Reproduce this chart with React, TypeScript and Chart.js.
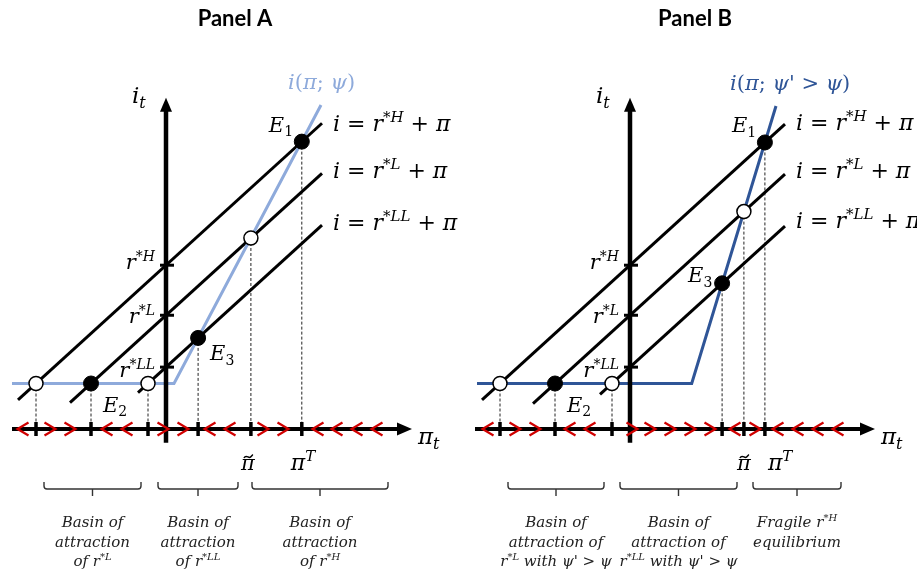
import React, { useEffect, useRef } from "react";
import { Chart, registerables } from "chart.js";

Chart.register(...registerables);

type Pt = { x: number; y: number };
type Kind = "i" | "n" | "sup" | "sub" | "subn";
type Tok = [string, Kind];

// ---------------- data (model units: π on x, i on y) ----------------
const R_STAR = [18, 12.5, 6.8]; // r*H, r*L, r*LL
const R_STAR_TAGS = ["*H", "*L", "*LL"];
const ZLB = 5;
const Y_AXIS = [-1.5, 36.4];

// Panel A
const A_X_AXIS = [-15.4, 24.6];
const A_LINE_H: Pt[] = [{ x: -14.8, y: 3.2 }, { x: 15.6, y: 33.6 }];
const A_LINE_L: Pt[] = [{ x: -9.6, y: 2.9 }, { x: 15.6, y: 28.1 }];
const A_LINE_LL: Pt[] = [{ x: -2.8, y: 4.0 }, { x: 15.6, y: 22.4 }];
const A_RULE: Pt[] = [{ x: -15.4, y: ZLB }, { x: 0.8, y: ZLB }, { x: 15.5, y: 35.6 }];
const A_EQ_FILLED: Pt[] = [{ x: -7.5, y: 5 }, { x: 3.21, y: 10.01 }, { x: 13.58, y: 31.58 }]; // E2, E3, E1
const A_EQ_OPEN: Pt[] = [{ x: -13, y: 5 }, { x: -1.8, y: 5 }, { x: 8.49, y: 20.99 }];
const A_FLOW_PI = [-14.3, -11.6, -9.6, -5.9, -3.9, -0.3, 1.7, 4.4, 6.4, 9.7, 11.7, 15.2, 17.1, 19.1, 21.1];
const A_FLOW_DIR = [-1, 1, 1, -1, -1, 1, 1, -1, -1, 1, 1, -1, -1, -1, -1];
const A_BASINS = [[-12.2, -2.5], [-0.8, 7.2], [8.6, 22.2]];
const A_BASIN_TEXT: Tok[][][] = [
  [[["Basin of", "i"]], [["attraction", "i"]], [["of r", "i"], ["*L", "sup"]]],
  [[["Basin of", "i"]], [["attraction", "i"]], [["of r", "i"], ["*LL", "sup"]]],
  [[["Basin of", "i"]], [["attraction", "i"]], [["of r", "i"], ["*H", "sup"]]],
];

// Panel B
const B_X_AXIS = [-15.5, 24.5];
const B_LINE_H: Pt[] = [{ x: -14.8, y: 3.2 }, { x: 15.5, y: 33.5 }];
const B_LINE_L: Pt[] = [{ x: -9.7, y: 2.8 }, { x: 15.5, y: 28.0 }];
const B_LINE_LL: Pt[] = [{ x: -3.0, y: 3.8 }, { x: 15.5, y: 22.3 }];
const B_RULE: Pt[] = [{ x: -15.3, y: ZLB }, { x: 6.17, y: ZLB }, { x: 14.6, y: 35.5 }];
const B_EQ_FILLED: Pt[] = [{ x: -7.5, y: 5 }, { x: 9.21, y: 16.01 }, { x: 13.49, y: 31.49 }];
const B_EQ_OPEN: Pt[] = [{ x: -13, y: 5 }, { x: -1.8, y: 5 }, { x: 11.39, y: 23.89 }];
const B_FLOW_PI = [-14.2, -11.5, -9.5, -6.0, -4.0, 0.2, 2.0, 4.0, 6.0, 8.0, 10.5, 12.5, 14.8, 16.8, 18.8, 20.8];
const B_FLOW_DIR = [-1, 1, 1, -1, -1, 1, 1, 1, 1, 1, -1, 1, -1, -1, -1, -1];
const B_BASINS = [[-12.2, -2.6], [-1.0, 10.7], [12.3, 21.1]];
const B_BASIN_TEXT: Tok[][][] = [
  [[["Basin of", "i"]], [["attraction of", "i"]], [["r", "i"], ["*L", "sup"], [" with ψ' ", "i"], ["> ", "n"], ["ψ", "i"]]],
  [[["Basin of", "i"]], [["attraction of", "i"]], [["r", "i"], ["*LL", "sup"], [" with ψ' ", "i"], ["> ", "n"], ["ψ", "i"]]],
  [[["Fragile r", "i"], ["*H", "sup"]], [["equilibrium", "i"]]],
];

const A_RULE_LABEL: Tok[] = [["i", "i"], ["(", "n"], ["π", "i"], ["; ", "n"], ["ψ", "i"], [")", "n"]];
const B_RULE_LABEL: Tok[] = [
  ["i", "i"], ["(", "n"], ["π", "i"], ["; ", "n"], ["ψ", "i"], ["'", "i"], [" > ", "n"], ["ψ", "i"], [")", "n"],
];

const RULE_COLOR_A = "#8eaadb";
const RULE_COLOR_B = "#2f5597";

// ---------------- drawing helpers ----------------
const FONT_MATH = '"DejaVu Serif", serif';

function tokFont(kind: Kind, size: number) {
  const small = kind === "sup" || kind === "sub" || kind === "subn";
  const italic = kind === "i" || kind === "sup" || kind === "sub";
  return `${italic ? "italic " : ""}${small ? Math.round(size * 0.68) : size}px ${FONT_MATH}`;
}
function mathWidth(ctx: CanvasRenderingContext2D, toks: Tok[], size: number) {
  let w = 0;
  for (const [t, k] of toks) {
    ctx.font = tokFont(k, size);
    w += ctx.measureText(t).width;
  }
  return w;
}
function drawMath(
  ctx: CanvasRenderingContext2D,
  toks: Tok[],
  x: number,
  y: number,
  size: number,
  color: string,
  align: "left" | "center" | "right" = "left"
) {
  const w = mathWidth(ctx, toks, size);
  let cx = align === "left" ? x : align === "right" ? x - w : x - w / 2;
  ctx.fillStyle = color;
  ctx.textBaseline = "alphabetic";
  ctx.textAlign = "left";
  for (const [t, k] of toks) {
    ctx.font = tokFont(k, size);
    const dy = k === "sup" ? -size * 0.4 : k === "sub" || k === "subn" ? size * 0.22 : 0;
    ctx.fillText(t, cx, y + dy);
    cx += ctx.measureText(t).width;
  }
}

type Panel = {
  axis: string;
  title: string;
  titleX: number;
  xAxis: number[];
  lines: Pt[][];
  rule: Pt[];
  ruleColor: string;
  ruleLabel: Tok[];
  ruleLabelDx: number;
  filled: Pt[];
  open: Pt[];
  flowPi: number[];
  flowDir: number[];
  basins: number[][];
  basinText: Tok[][][];
  lineLabelBase: number[];
  e3Dx: number;
  e3Dy: number;
  piTDx: number;
  tildeDx: number;
};

const PANELS: Panel[] = [
  {
    axis: "xA", title: "Panel A", titleX: 6.9, xAxis: A_X_AXIS,
    lines: [A_LINE_H, A_LINE_L, A_LINE_LL], rule: A_RULE, ruleColor: RULE_COLOR_A,
    ruleLabel: A_RULE_LABEL, ruleLabelDx: -33, filled: A_EQ_FILLED, open: A_EQ_OPEN,
    flowPi: A_FLOW_PI, flowDir: A_FLOW_DIR, basins: A_BASINS, basinText: A_BASIN_TEXT,
    lineLabelBase: [131, 178, 230], e3Dx: 12, e3Dy: 22, piTDx: -11, tildeDx: -3,
  },
  {
    axis: "xB", title: "Panel B", titleX: 6.5, xAxis: B_X_AXIS,
    lines: [B_LINE_H, B_LINE_L, B_LINE_LL], rule: B_RULE, ruleColor: RULE_COLOR_B,
    ruleLabel: B_RULE_LABEL, ruleLabelDx: -46, filled: B_EQ_FILLED, open: B_EQ_OPEN,
    flowPi: B_FLOW_PI, flowDir: B_FLOW_DIR, basins: B_BASINS, basinText: B_BASIN_TEXT,
    lineLabelBase: [130, 178, 228], e3Dx: -34, e3Dy: -1, piTDx: 3, tildeDx: 0,
  },
];

const diagramPlugin = {
  id: "diagram",
  afterDatasetsDraw(chart: any) {
    const ctx: CanvasRenderingContext2D = chart.ctx;
    const ys = chart.scales.y;
    const Y = (v: number) => ys.getPixelForValue(v);
    for (const p of PANELS) {
      const xs = chart.scales[p.axis];
      const X = (v: number) => xs.getPixelForValue(v);
      const x0 = X(0);
      const y0 = Y(0);
      ctx.save();
      ctx.lineCap = "butt";
      // axes
      ctx.strokeStyle = "#000";
      ctx.fillStyle = "#000";
      ctx.lineWidth = 4;
      const xTip = X(p.xAxis[1]);
      ctx.beginPath();
      ctx.moveTo(X(p.xAxis[0]), y0);
      ctx.lineTo(xTip - 12, y0);
      ctx.stroke();
      ctx.beginPath();
      ctx.moveTo(xTip, y0);
      ctx.lineTo(xTip - 15, y0 - 6.5);
      ctx.lineTo(xTip - 15, y0 + 6.5);
      ctx.closePath();
      ctx.fill();
      const yTip = Y(Y_AXIS[1]);
      ctx.lineWidth = 4.5;
      ctx.beginPath();
      ctx.moveTo(x0, Y(Y_AXIS[0]));
      ctx.lineTo(x0, yTip + 10);
      ctx.stroke();
      ctx.beginPath();
      ctx.moveTo(x0, yTip);
      ctx.lineTo(x0 - 6, yTip + 14);
      ctx.lineTo(x0 + 6, yTip + 14);
      ctx.closePath();
      ctx.fill();

      // flow chevrons
      ctx.strokeStyle = "#d00000";
      ctx.lineWidth = 2.2;
      ctx.lineJoin = "miter";
      p.flowPi.forEach((v, k) => {
        const cx = X(v);
        const d = p.flowDir[k];
        ctx.beginPath();
        ctx.moveTo(cx - 5.5 * d, y0 - 6.5);
        ctx.lineTo(cx + 5.5 * d, y0);
        ctx.lineTo(cx - 5.5 * d, y0 + 6.5);
        ctx.stroke();
      });

      // x ticks at equilibria
      ctx.strokeStyle = "#000";
      ctx.lineWidth = 3.5;
      for (const e of [...p.filled, ...p.open]) {
        ctx.beginPath();
        ctx.moveTo(X(e.x), y0 - 7);
        ctx.lineTo(X(e.x), y0 + 7);
        ctx.stroke();
      }
      // y ticks at r*
      ctx.lineWidth = 3;
      for (const r of R_STAR) {
        ctx.beginPath();
        ctx.moveTo(x0 - 6, Y(r));
        ctx.lineTo(x0 + 8, Y(r));
        ctx.stroke();
      }

      // title
      ctx.fillStyle = "#000";
      ctx.font = "bold 22px Lato";
      ctx.textAlign = "center";
      ctx.textBaseline = "alphabetic";
      ctx.fillText(p.title, X(p.titleX), 26);

      // axis labels
      drawMath(ctx, [["i", "i"], ["t", "sub"]], x0 - 34, yTip + 5, 23, "#000");
      drawMath(ctx, [["π", "i"], ["t", "sub"]], xTip + 6, y0 + 15, 23, "#000");

      // r* labels
      const rBase = [4, 8, 10];
      R_STAR.forEach((r, k) => {
        drawMath(ctx, [["r", "i"], [R_STAR_TAGS[k], "sup"]], x0 - 11, Y(r) + rBase[k], 21, "#000", "right");
      });

      // line labels
      p.lines.forEach((ln, k) => {
        const end = ln[ln.length - 1];
        drawMath(
          ctx,
          [["i", "i"], [" = ", "n"], ["r", "i"], [R_STAR_TAGS[k], "sup"], [" + ", "n"], ["π", "i"]],
          X(end.x) + 11,
          p.lineLabelBase[k],
          22,
          "#000"
        );
      });

      // rule label
      const top = p.rule[p.rule.length - 1];
      drawMath(ctx, p.ruleLabel, X(top.x) + p.ruleLabelDx, Y(top.y) - 16, 21, p.ruleColor);

      // equilibrium labels
      const E1 = p.filled[2], E2 = p.filled[0], E3 = p.filled[1];
      drawMath(ctx, [["E", "i"], ["1", "subn"]], X(E1.x) - 33, Y(E1.y) - 10, 21, "#000");
      drawMath(ctx, [["E", "i"], ["2", "subn"]], X(E2.x) + 12, Y(E2.y) + 28, 21, "#000");
      drawMath(ctx, [["E", "i"], ["3", "subn"]], X(E3.x) + p.e3Dx, Y(E3.y) + p.e3Dy, 21, "#000");

      // π tilde and π^T
      const tilde = p.open[2];
      const tx = X(tilde.x) + p.tildeDx;
      drawMath(ctx, [["π", "i"]], tx, 470, 21, "#000", "center");
      ctx.strokeStyle = "#000";
      ctx.lineWidth = 1.4;
      ctx.beginPath();
      ctx.moveTo(tx - 4, 458);
      ctx.bezierCurveTo(tx - 2, 454.5, tx, 457.5, tx + 1.5, 457.5);
      ctx.bezierCurveTo(tx + 3, 457.5, tx + 4, 455.5, tx + 5, 454.5);
      ctx.stroke();
      drawMath(ctx, [["π", "i"], ["T", "sup"]], X(E1.x) + p.piTDx, 470, 22, "#000");

      // basins
      ctx.strokeStyle = "#333";
      ctx.lineWidth = 1.4;
      p.basins.forEach((b, k) => {
        const a = X(b[0]), c = X(b[1]), m = (a + c) / 2;
        ctx.beginPath();
        ctx.moveTo(a, 482);
        ctx.lineTo(a, 486);
        ctx.quadraticCurveTo(a, 489, a + 3, 489);
        ctx.lineTo(c - 3, 489);
        ctx.quadraticCurveTo(c, 489, c, 486);
        ctx.lineTo(c, 482);
        ctx.moveTo(m, 489);
        ctx.lineTo(m, 496);
        ctx.stroke();
        p.basinText[k].forEach((line, j) => {
          drawMath(ctx, line, m, 527 + j * 19.5, 15, "#222", "center");
        });
      });
      ctx.restore();
    }
  },
};

function buildDatasets() {
  const ds: any[] = [];
  PANELS.forEach((p) => {
    const base = { xAxisID: p.axis, yAxisID: "y", showLine: true, pointRadius: 0, fill: false, tension: 0 };
    ds.push({ ...base, data: p.filled, showLine: false, pointRadius: 7.5, pointBackgroundColor: "#000", pointBorderColor: "#000", pointBorderWidth: 1, order: 0 });
    ds.push({ ...base, data: p.open, showLine: false, pointRadius: 7, pointBackgroundColor: "#fff", pointBorderColor: "#000", pointBorderWidth: 1.5, order: 0 });
    ds.push({ ...base, data: p.rule, borderColor: p.ruleColor, borderWidth: 3, order: 2 });
    p.lines.forEach((ln) => ds.push({ ...base, data: ln, borderColor: "#000", borderWidth: 3, order: 3 }));
    [...p.filled, ...p.open].forEach((e) =>
      ds.push({ ...base, data: [e, { x: e.x, y: 0 }], borderColor: "#222", borderWidth: 1, borderDash: [3, 2], order: 4 })
    );
  });
  return ds;
}

export default function App() {
  const ref = useRef<HTMLCanvasElement | null>(null);
  useEffect(() => {
    if (!ref.current) return;
    const chart = new Chart(ref.current, {
      type: "scatter",
      data: { datasets: buildDatasets() },
      options: {
        animation: false,
        responsive: false,
        events: [],
        layout: { padding: 0, autoPadding: false },
        plugins: { legend: { display: false }, tooltip: { enabled: false } },
        scales: {
          xA: { type: "linear", display: false, min: -16.6, max: 75.1 },
          xB: { type: "linear", display: false, min: -63, max: 28.7 },
          y: { type: "linear", display: false, min: -15.604, max: 47.143 },
        },
      },
      plugins: [diagramPlugin],
    } as any);
    return () => chart.destroy();
  }, []);
  return (
    <div style={{ position: "fixed", left: 0, top: 0, width: 917, height: 571, background: "#fff" }}>
      <canvas ref={ref} width={917} height={571} style={{ width: 917, height: 571, display: "block" }} />
    </div>
  );
}
